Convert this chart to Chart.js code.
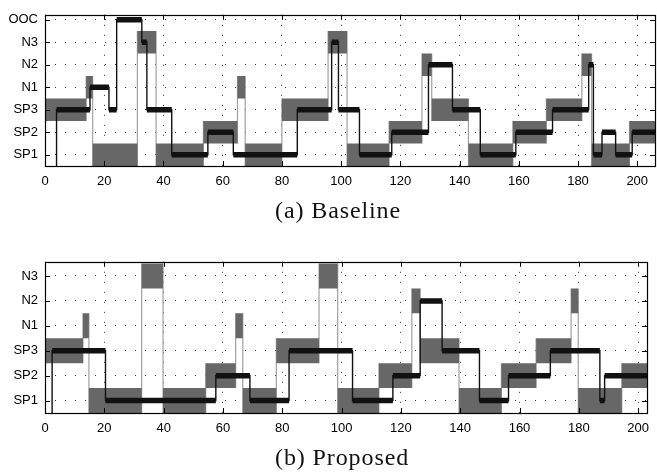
<!DOCTYPE html>
<html>
<head>
<meta charset="utf-8">
<script src="https://cdn.jsdelivr.net/npm/chart.js@4.4.1/dist/chart.umd.min.js"></script>
<style>
body{margin:0;background:#fff;width:657px;height:472px;position:relative;overflow:hidden}
canvas{position:absolute;left:0}
.cap{position:absolute;font-family:"Liberation Serif",serif;font-size:24px;line-height:24px;letter-spacing:0.9px;color:#111;white-space:nowrap}
</style>
</head>
<body>
<canvas id="baseline" width="657" height="200" style="top:0"></canvas>
<div class="cap" style="left:275px;top:198px">(a) Baseline</div>
<canvas id="proposed" width="657" height="200" style="top:247px"></canvas>
<div class="cap" style="left:275px;top:445px">(b) Proposed</div>
<script>
const levelNames=['SP1','SP2','SP3','N1','N2','N3','OOC']
const xTicks=[0,20,40,60,80,100,120,140,160,180,200]

// (a) baseline: grey band = edges + level of each block, black = chosen state
const baseBandEdges=[0,13.9,16.1,31.2,37.5,53.5,65,67.6,80,95.6,102,116.2,127.3,130.6,143,158,169.3,181.3,184.6,197.4,206]
const baseBandLevels=[2,3,0,5,0,1,3,0,2,5,0,1,4,2,0,1,2,4,0,1]
const baseLineEdges=[3.9,15.2,21.6,24.2,32.7,34.4,42.8,55,63.6,85.2,96.8,99.1,106.2,117.1,129.5,137.6,147,159,171.4,183.6,185.2,188.1,192.7,198.3,206]
const baseLineLevels=[2,3,2,6,5,2,0,1,0,2,5,2,0,1,4,2,0,1,2,4,0,1,0,1]

// (b) proposed
const propBandEdges=[0,12.8,14.8,32.6,39.8,54.2,64.3,66.7,78,92.4,98.7,112.6,123.7,126.5,139.6,153.9,165.6,177.4,179.8,194.5,203]
const propBandLevels=[2,3,0,5,0,1,3,0,2,5,0,1,4,2,0,1,2,4,0,1]
const propLineEdges=[2.4,20.4,57.6,69.1,82.3,103.7,117.3,126.5,133.9,146.5,156.3,170.4,187.1,188.7,203]
const propLineLevels=[2,0,1,0,2,0,1,4,2,0,1,2,0,1]

const yMin=-0.5

function steps(edges,levels,offset){
    let pts=[]
    levels.forEach((l,i)=>{
        pts.push({x:edges[i],y:l+offset})
        pts.push({x:edges[i+1],y:l+offset})
    })
    return pts
}

function pieces(edges,levels){
    let pts=[]
    levels.forEach((l,i)=>{
        pts.push({x:edges[i],y:l})
        pts.push({x:edges[i+1],y:l})
        pts.push({x:edges[i+1],y:null})
    })
    return pts
}

function risers(edges,levels){
    let pts=[]
    for(let i=1;i<levels.length;i++){
        const lo=Math.min(levels[i-1],levels[i])-0.5
        const hi=Math.max(levels[i-1],levels[i])+0.5
        pts.push({x:edges[i],y:lo})
        pts.push({x:edges[i],y:hi})
        pts.push({x:edges[i],y:null})
    }
    return pts
}

const frame={
    id:'frame',
    afterDraw(chart){
        const {ctx,chartArea:a,scales:{x,y}}=chart
        ctx.save()
        ctx.strokeStyle='#000'
        ctx.lineWidth=1
        ctx.beginPath()
        x.ticks.forEach(t=>{
            const px=Math.round(x.getPixelForValue(t.value))+0.5
            ctx.moveTo(px,a.top);ctx.lineTo(px,a.top+5)
            ctx.moveTo(px,a.bottom);ctx.lineTo(px,a.bottom-5)
        })
        y.ticks.forEach(t=>{
            const py=Math.round(y.getPixelForValue(t.value))+0.5
            ctx.moveTo(a.left,py);ctx.lineTo(a.left+5,py)
            ctx.moveTo(a.right,py);ctx.lineTo(a.right-5,py)
        })
        ctx.stroke()
        ctx.lineWidth=1.2
        ctx.strokeRect(Math.round(a.left)+0.5,Math.round(a.top)+0.5,Math.round(a.right-a.left),Math.round(a.bottom-a.top))
        ctx.restore()
    }
}

function makeChart(id,bandEdges,bandLevels,lineEdges,lineLevels,xMax,yMax,yCount){
    const line=[{x:lineEdges[0],y:yMin}].concat(steps(lineEdges,lineLevels,0))
    const font={family:'"Liberation Sans", Arial, sans-serif',size:13}
    return new Chart(document.getElementById(id),{
        type:'line',
        data:{
            datasets:[
                {data:pieces(lineEdges,lineLevels),borderColor:'#111',borderWidth:5.5,borderCapStyle:'butt',spanGaps:false,order:0},
                {data:line,borderColor:'#111',borderWidth:1.4,order:1},
                {data:steps(bandEdges,bandLevels,0.5),borderWidth:0,borderColor:'rgba(0,0,0,0)',fill:'+1',backgroundColor:'#676767',order:3},
                {data:steps(bandEdges,bandLevels,-0.5),borderWidth:0,borderColor:'rgba(0,0,0,0)',fill:false,order:4},
                {data:risers(bandEdges,bandLevels),borderColor:'#a0a0a0',borderWidth:1.2,spanGaps:false,order:5}
            ]
        },
        options:{
            responsive:false,
            animation:false,
            events:[],
            layout:{padding:{top:7,right:2,left:0,bottom:0}},
            elements:{point:{radius:0},line:{tension:0,borderJoinStyle:'miter'}},
            plugins:{legend:{display:false},tooltip:{enabled:false}},
            scales:{
                x:{
                    type:'linear',min:0,max:xMax,
                    afterBuildTicks:s=>{s.ticks=xTicks.map(v=>({value:v}))},
                    afterFit:s=>{s.height=34},
                    grid:{color:'#333',lineWidth:1,drawTicks:false},
                    border:{display:false,dash:[1,9]},
                    ticks:{font,color:'#000',padding:8,maxRotation:0,autoSkip:false,callback:v=>v}
                },
                y:{
                    type:'linear',min:yMin,max:yMax,
                    afterBuildTicks:s=>{s.ticks=levelNames.slice(0,yCount).map((n,i)=>({value:i}))},
                    afterFit:s=>{s.width=45},
                    grid:{color:'#333',lineWidth:1,drawTicks:false},
                    border:{display:false,dash:[1,9]},
                    ticks:{font,color:'#000',padding:7,callback:v=>levelNames[v]}
                }
            }
        },
        plugins:[frame]
    })
}

makeChart('baseline',baseBandEdges,baseBandLevels,baseLineEdges,baseLineLevels,206,6.22,7)
makeChart('proposed',propBandEdges,propBandLevels,propLineEdges,propLineLevels,203,5.57,6)
</script>
</body>
</html>
